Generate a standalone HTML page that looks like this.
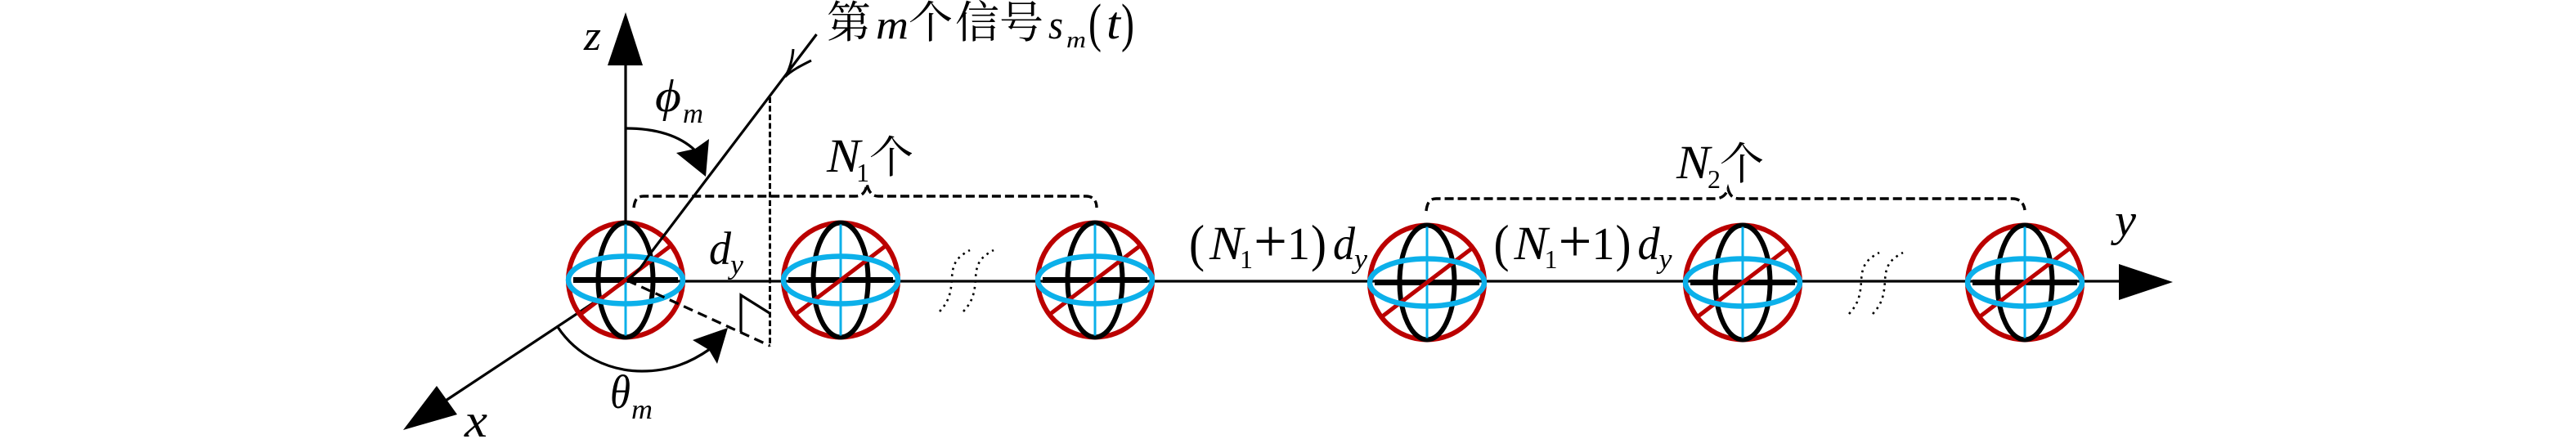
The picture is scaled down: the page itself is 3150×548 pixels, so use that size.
<!DOCTYPE html>
<html><head><meta charset="utf-8"><style>
html,body{margin:0;padding:0;background:#fff}
svg{display:block}
text{fill:#000}
.m{font-family:"Liberation Serif",serif;font-style:italic}
.r{font-family:"Liberation Serif",serif}
.c{font-family:"Liberation Serif","Noto Serif CJK SC",serif;font-size:54px}
</style></head><body>
<svg width="3150" height="548" viewBox="0 0 3150 548" xmlns="http://www.w3.org/2000/svg">
<defs>
<g id="s">
<line x1="-64" y1="0" x2="64" y2="0" stroke="#000" stroke-width="7"/>
<circle r="70" fill="none" stroke="#bb0000" stroke-width="6"/>
<ellipse rx="33.5" ry="70" fill="none" stroke="#000" stroke-width="6"/>
<line x1="0" y1="-68" x2="0" y2="68" stroke="#0cb0ea" stroke-width="3"/>
<line x1="-54" y1="41" x2="54" y2="-41" stroke="#bb0000" stroke-width="5"/>
<ellipse rx="70" ry="29" fill="none" stroke="#0cb0ea" stroke-width="6.5"/>
</g>
<g id="d" fill="none" stroke="#000" stroke-width="2.6" stroke-dasharray="2.6 5.2">
<path d="M2261 384C2272 372 2275 362 2276 343C2277 326 2281 318 2298 309"/>
<path d="M2290 384C2301 372 2304 362 2305 343C2306 326 2310 318 2327 309"/>
</g>
</defs>
<!-- axes -->
<line x1="765" y1="344" x2="2592" y2="344" stroke="#000" stroke-width="3.2"/>
<line x1="765" y1="343" x2="765" y2="78" stroke="#000" stroke-width="3.2"/>
<polygon points="765,15 743,80 786,80" fill="#000"/>
<polygon points="2657,345 2591,323 2591,367" fill="#000"/>
<line x1="767" y1="343" x2="545" y2="490" stroke="#000" stroke-width="3.2"/>
<polygon points="493,526 534,472 559,507" fill="#000"/>
<!-- spheres -->
<use href="#s" x="765" y="342.5"/>
<use href="#s" x="1028" y="342.5"/>
<use href="#s" x="1339" y="342.5"/>
<use href="#s" x="1745" y="345.5"/>
<use href="#s" x="2131" y="345.5"/>
<use href="#s" x="2476" y="345.5"/>
<!-- signal -->
<path d="M767 343C778 335 786 325 793 313L998.5 42" fill="none" stroke="#000" stroke-width="3.2"/>
<path d="M970 60C969 72 966 84 960 94C968 86 980 80 992 74" fill="none" stroke="#000" stroke-width="3"/>
<!-- dashed -->
<line x1="941.5" y1="119" x2="941.5" y2="424" stroke="#000" stroke-width="3" stroke-dasharray="7 3.5"/>
<path d="M767 343L941.5 423" fill="none" stroke="#000" stroke-width="3.2" stroke-dasharray="12 7"/>
<path d="M906 406V361L941 383" fill="none" stroke="#000" stroke-width="3.2"/>
<!-- arcs -->
<path d="M765 157C800 157 830 165 850 184" fill="none" stroke="#000" stroke-width="3.2"/>
<polygon points="863,216 827,187 850,182 867,170" fill="#000"/>
<path d="M682 400C705 435 745 454 785 454C820 454 845 443 868 427" fill="none" stroke="#000" stroke-width="3.2"/>
<polygon points="890,401 847,416 867,428 877,445" fill="#000"/>
<!-- braces -->
<path d="M775 254C776 246 778 240 787 240H1046C1055 240 1059 234 1060 225C1062 234 1066 240 1074 240H1328C1337 240 1341 246 1341 254" fill="none" stroke="#000" stroke-width="3.4" stroke-dasharray="11 5"/>
<path d="M1744 258C1745 249 1748 243 1756 243H2097C2106 243 2111 238 2113 231C2115 238 2118 243 2127 243H2461C2470 243 2475 249 2476 257" fill="none" stroke="#000" stroke-width="3.4" stroke-dasharray="11 5"/>
<!-- dots -->
<use href="#d"/>
<use href="#d" x="-1112" y="-3"/>
<!-- labels -->
<text class="m" x="714" y="61" font-size="52" textLength="21" lengthAdjust="spacingAndGlyphs">z</text>
<text class="m" x="568" y="534" font-size="58" textLength="28" lengthAdjust="spacingAndGlyphs">x</text>
<text class="m" x="2586" y="288" font-size="56" textLength="26" lengthAdjust="spacingAndGlyphs">y</text>
<text class="c" x="1011" y="46">第</text>
<text class="m" x="1071" y="47" font-size="50" textLength="40" lengthAdjust="spacingAndGlyphs">m</text>
<text class="c" x="1111" y="46">个</text>
<text class="c" x="1168" y="46">信</text>
<text class="c" x="1222" y="46">号</text>
<text class="m" x="1282" y="47" font-size="50" textLength="18" lengthAdjust="spacingAndGlyphs">s</text>
<text class="m" x="1304" y="58" font-size="28" textLength="24" lengthAdjust="spacingAndGlyphs">m</text>
<text class="r" x="1331" y="50" font-size="66" textLength="16" lengthAdjust="spacingAndGlyphs">(</text>
<text class="m" x="1353" y="47" font-size="56" textLength="17" lengthAdjust="spacingAndGlyphs">t</text>
<text class="r" x="1371" y="50" font-size="66" textLength="16" lengthAdjust="spacingAndGlyphs">)</text>
<text class="m" x="801" y="136" font-size="56" textLength="32" lengthAdjust="spacingAndGlyphs">ϕ</text>
<text class="m" x="835" y="150" font-size="34" textLength="25" lengthAdjust="spacingAndGlyphs">m</text>
<text class="m" x="746" y="499" font-size="58" textLength="25" lengthAdjust="spacingAndGlyphs">θ</text>
<text class="m" x="772" y="512" font-size="34" textLength="26" lengthAdjust="spacingAndGlyphs">m</text>
<text class="m" x="867" y="323" font-size="57" textLength="27" lengthAdjust="spacingAndGlyphs">d</text>
<text class="m" x="893" y="335" font-size="34" textLength="16" lengthAdjust="spacingAndGlyphs">y</text>
<text class="m" x="1011" y="210" font-size="58" textLength="41" lengthAdjust="spacingAndGlyphs">N</text>
<text class="r" x="1047" y="222" font-size="32">1</text>
<text class="c" x="1063" y="211">个</text>
<text class="m" x="2050" y="218" font-size="58" textLength="41" lengthAdjust="spacingAndGlyphs">N</text>
<text class="r" x="2088" y="230" font-size="32">2</text>
<text class="c" x="2103" y="219">个</text>
<text class="r" x="1454" y="319" font-size="64" textLength="19" lengthAdjust="spacingAndGlyphs">(</text>
<text class="m" x="1479" y="317" font-size="58" textLength="41" lengthAdjust="spacingAndGlyphs">N</text>
<text class="r" x="1516" y="328" font-size="32">1</text>
<text class="r" x="1533" y="320" font-size="74" textLength="41" lengthAdjust="spacingAndGlyphs">+</text>
<text class="r" x="1574" y="317" font-size="56">1</text>
<text class="r" x="1603" y="319" font-size="64" textLength="19" lengthAdjust="spacingAndGlyphs">)</text>
<text class="m" x="1630" y="317" font-size="57" textLength="27" lengthAdjust="spacingAndGlyphs">d</text>
<text class="m" x="1656" y="328" font-size="34" textLength="16" lengthAdjust="spacingAndGlyphs">y</text>
<g transform="translate(372.5 0)">
<text class="r" x="1454" y="319" font-size="64" textLength="19" lengthAdjust="spacingAndGlyphs">(</text>
<text class="m" x="1479" y="317" font-size="58" textLength="41" lengthAdjust="spacingAndGlyphs">N</text>
<text class="r" x="1516" y="328" font-size="32">1</text>
<text class="r" x="1533" y="320" font-size="74" textLength="41" lengthAdjust="spacingAndGlyphs">+</text>
<text class="r" x="1574" y="317" font-size="56">1</text>
<text class="r" x="1603" y="319" font-size="64" textLength="19" lengthAdjust="spacingAndGlyphs">)</text>
<text class="m" x="1630" y="317" font-size="57" textLength="27" lengthAdjust="spacingAndGlyphs">d</text>
<text class="m" x="1656" y="328" font-size="34" textLength="16" lengthAdjust="spacingAndGlyphs">y</text>
</g>
</svg>
</body></html>
